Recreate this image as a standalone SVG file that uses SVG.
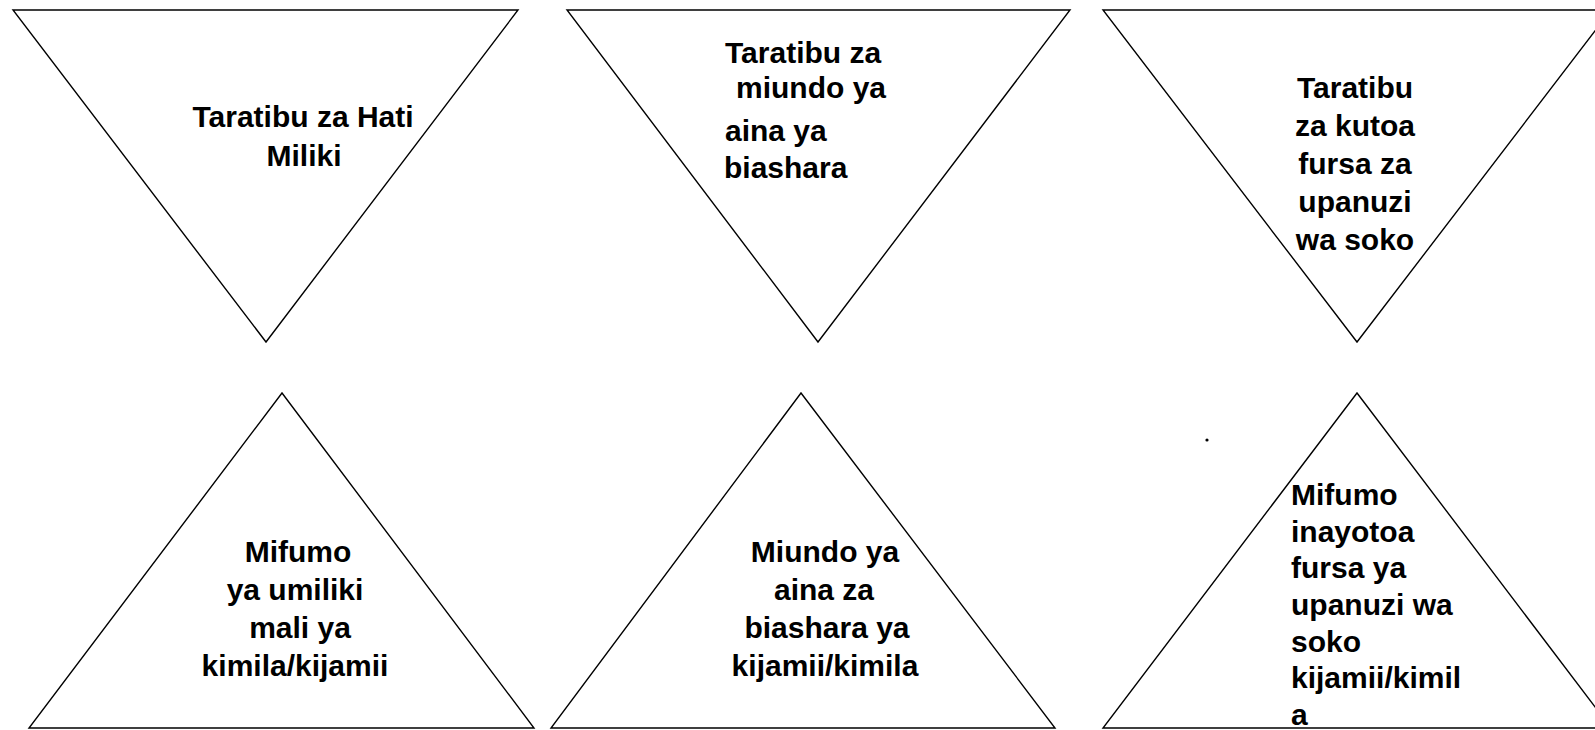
<svg xmlns="http://www.w3.org/2000/svg" width="1595" height="730" viewBox="0 0 1595 730">
<style>
.tri{fill:#fff;stroke:#000;stroke-width:1.4;stroke-linejoin:miter}
.lbl{font-family:"Liberation Sans",Arial,sans-serif;font-weight:bold;font-size:30px;fill:#000}
.c{text-anchor:middle}
</style>
<rect x="0" y="0" width="1595" height="730" fill="#fff"/>
<g id="connectors"/>
<g id="n1">
<polygon class="tri" points="13,10 518,10 266,342"/>
<text class="lbl c" x="303" y="127">Taratibu za Hati</text>
<text class="lbl c" x="304" y="166">Miliki</text>
</g>
<g id="n2">
<polygon class="tri" points="567,10 1070,10 818,342"/>
<text class="lbl" x="725" y="63">Taratibu za</text>
<text class="lbl" x="736" y="98">miundo ya</text>
<text class="lbl" x="725" y="141">aina ya</text>
<text class="lbl" x="724" y="178">biashara</text>
</g>
<g id="n3">
<polygon class="tri" points="1103,10 1611,10 1357,342"/>
<text class="lbl c" x="1355" y="98">Taratibu</text>
<text class="lbl c" x="1355" y="136">za kutoa</text>
<text class="lbl c" x="1355" y="174">fursa za</text>
<text class="lbl c" x="1355" y="212">upanuzi</text>
<text class="lbl c" x="1355" y="250">wa soko</text>
</g>
<g id="n4">
<polygon class="tri" points="282,393 29,728 534,728"/>
<text class="lbl c" x="298" y="562">Mifumo</text>
<text class="lbl c" x="295" y="600">ya umiliki</text>
<text class="lbl c" x="300" y="638">mali ya</text>
<text class="lbl c" x="295" y="676">kimila/kijamii</text>
</g>
<g id="n5">
<polygon class="tri" points="801,393 551,728 1055,728"/>
<text class="lbl c" x="825" y="562">Miundo ya</text>
<text class="lbl c" x="824" y="600">aina za</text>
<text class="lbl c" x="827" y="638">biashara ya</text>
<text class="lbl c" x="825" y="676">kijamii/kimila</text>
</g>
<g id="n6">
<polygon class="tri" points="1357,393 1103,728 1611,728"/>
<text class="lbl" x="1291" y="505">Mifumo</text>
<text class="lbl" x="1291" y="542">inayotoa</text>
<text class="lbl" x="1291" y="578">fursa ya</text>
<text class="lbl" x="1291" y="615">upanuzi wa</text>
<text class="lbl" x="1291" y="652">soko</text>
<text class="lbl" x="1291" y="688">kijamii/kimil</text>
<text class="lbl" x="1291" y="725">a</text>
</g>
<circle cx="1207" cy="440" r="1.6" fill="#000"/>
</svg>
